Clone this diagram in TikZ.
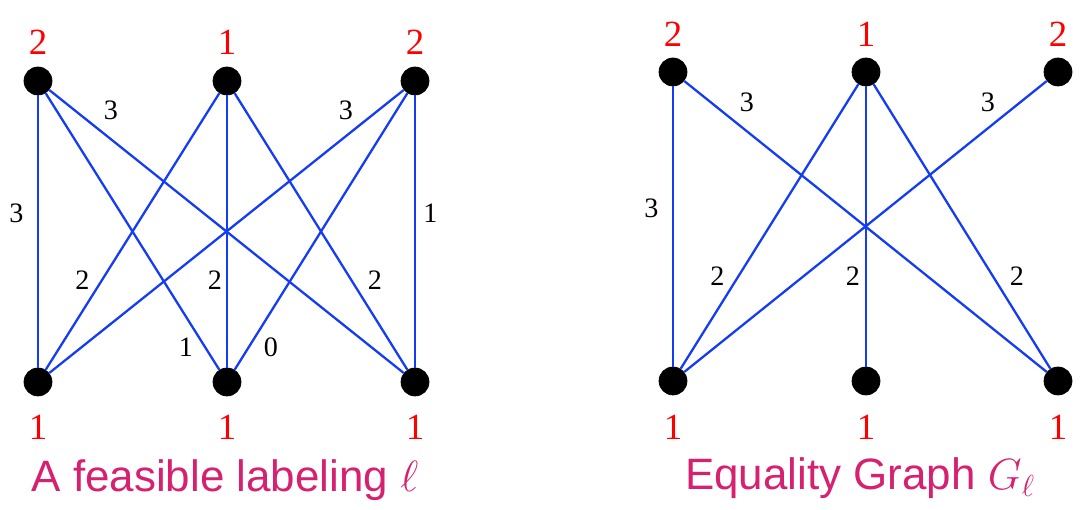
\documentclass[tikz,border=0pt]{standalone}
\usepackage{fontspec}
\setmainfont{Liberation Serif}
\newfontfamily\titlefont{Liberation Sans}
\usetikzlibrary{calc}
\definecolor{edgeblue}{RGB}{20,60,245}
\definecolor{titlepink}{RGB}{214,32,112}
\definecolor{potred}{RGB}{255,0,0}

\begin{document}
\begin{tikzpicture}
[   dot/.style={circle,fill=black,draw=black,minimum size=5.6mm,inner sep=0pt},
    pot/.style={text=potred,font=\fontsize{21}{21}\selectfont,inner sep=0pt},
    wt/.style={font=\fontsize{16}{16}\selectfont,inner sep=0pt},
    ttl/.style={text=titlepink,font=\titlefont\fontsize{25}{25}\selectfont,inner sep=0pt,anchor=base},
    edge/.style={edgeblue,line width=1.3pt}
]
    \useasboundingbox (0,0) rectangle (21.82,10.2);
    % left graph: a feasible labeling
    \node[dot] (a1) at (0.76,8.58) {};
    \node[dot] (a2) at (4.54,8.58) {};
    \node[dot] (a3) at (8.30,8.58) {};
    \node[dot] (b1) at (0.76,2.56) {};
    \node[dot] (b2) at (4.54,2.56) {};
    \node[dot] (b3) at (8.30,2.56) {};
    \foreach \t in {a1,a2,a3}
        \foreach \b in {b1,b2,b3}
            \draw[edge] (\t) -- (\b);
    \node[pot] (la1) at (0.76,9.36) {2};
    \node[pot] (la2) at (4.54,9.36) {1};
    \node[pot] (la3) at (8.30,9.36) {2};
    \node[pot] (lb1) at (0.76,1.66) {1};
    \node[pot] (lb2) at (4.54,1.66) {1};
    \node[pot] (lb3) at (8.30,1.66) {1};
    \node[wt] (w11) at (0.33,5.94) {3};
    \node[wt] (w13) at (2.22,8.00) {3};
    \node[wt] (w31) at (6.92,8.00) {3};
    \node[wt] (w33) at (8.61,5.94) {1};
    \node[wt] (w21) at (1.65,4.60) {2};
    \node[wt] (w22) at (4.30,4.60) {2};
    \node[wt] (w23) at (7.50,4.60) {2};
    \node[wt] (w12) at (3.72,3.26) {1};
    \node[wt] (w32) at (5.42,3.26) {0};
    \node[ttl] (tl) at (4.50,0.36) {A feasible labeling $\ell$};
    % right graph: equality graph
    \node[dot] (c1) at (13.46,8.76) {};
    \node[dot] (c2) at (17.32,8.76) {};
    \node[dot] (c3) at (21.16,8.76) {};
    \node[dot] (d1) at (13.46,2.58) {};
    \node[dot] (d2) at (17.32,2.58) {};
    \node[dot] (d3) at (21.16,2.58) {};
    \draw[edge] (c1) -- (d1);
    \draw[edge] (c1) -- (d3);
    \draw[edge] (c2) -- (d1);
    \draw[edge] (c2) -- (d2);
    \draw[edge] (c2) -- (d3);
    \draw[edge] (c3) -- (d1);
    \node[pot] (lc1) at (13.46,9.52) {2};
    \node[pot] (lc2) at (17.32,9.52) {1};
    \node[pot] (lc3) at (21.16,9.52) {2};
    \node[pot] (ld1) at (13.46,1.66) {1};
    \node[pot] (ld2) at (17.32,1.66) {1};
    \node[pot] (ld3) at (21.16,1.66) {1};
    \node[wt] (v11) at (13.03,6.04) {3};
    \node[wt] (v13) at (14.94,8.16) {3};
    \node[wt] (v31) at (19.76,8.16) {3};
    \node[wt] (v21) at (14.35,4.68) {2};
    \node[wt] (v22) at (17.06,4.68) {2};
    \node[wt] (v23) at (20.34,4.68) {2};
    \node[ttl] (tr) at (17.20,0.40) {Equality Graph $G_\ell$};
\end{tikzpicture}
\end{document}
